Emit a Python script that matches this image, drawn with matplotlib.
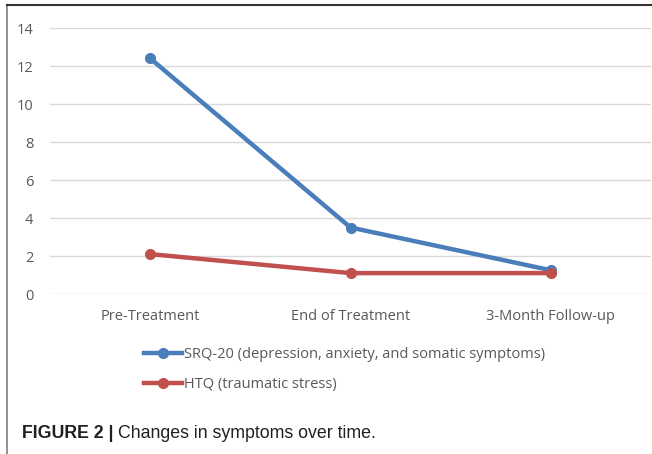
import matplotlib.pyplot as plt
from matplotlib.lines import Line2D

categories = ['Pre-Treatment', 'End of Treatment', '3-Month Follow-up']
srq20 = [12.4, 3.5, 1.25]
htq = [2.1, 1.1, 1.1]
yticks = [0, 2, 4, 6, 8, 10, 12, 14]

blue = '#4a7ebb'
red = '#c0504d'
grey = '#595959'
font = 'Open Sans'

W, H = 652, 454
fig = plt.figure(figsize=(W / 100, H / 100), dpi=100)
ax = fig.add_axes([50 / W, 1 - 294 / H, 601 / W, 266 / H])

x = range(len(categories))
ax.plot(x, srq20, color=blue, lw=3.2, marker='o', ms=7,
        label='SRQ-20 (depression, anxiety, and somatic symptoms)', zorder=3)
ax.plot(x, htq, color=red, lw=3.2, marker='o', ms=7,
        label='HTQ (traumatic stress)', zorder=3)

ax.set_ylim(0, 14)
ax.set_xlim(-0.5, 2.5)
ax.set_yticks(yticks)
ax.set_xticks(list(x))
ax.set_xticklabels(categories)
ax.grid(axis='y', color='#d9d9d9', lw=1)
ax.set_axisbelow(True)
for s in ax.spines.values():
    s.set_visible(False)
ax.tick_params(length=0, labelcolor=grey, labelsize=10.5)
ax.tick_params(axis='x', pad=10.5)
ax.tick_params(axis='y', pad=12)
for lab in ax.get_xticklabels() + ax.get_yticklabels():
    lab.set_fontfamily(font)

leg = ax.legend(loc='upper left', bbox_to_anchor=(131 / W, 1 - 334 / H),
                bbox_transform=fig.transFigure, frameon=False,
                handlelength=2.6, handletextpad=0.1, labelspacing=1.05,
                prop={'family': font, 'size': 10.5})
for t in leg.get_texts():
    t.set_color(grey)

# frame lines of the figure panel
fig.add_artist(Line2D([7 / W, 7 / W], [0, 1 - 5 / H], color='#808080', lw=1.2))
fig.add_artist(Line2D([7 / W, 1], [1 - 5 / H, 1 - 5 / H], color='#333333', lw=1.5))

# caption
cap = fig.text(22 / W, 1 - 433 / H, 'FIGURE 2 |', fontsize=12.8, fontweight='bold',
               family='Liberation Sans', va='center', color='#231f20')
fig.canvas.draw()
bb = cap.get_window_extent()
fig.text((bb.x1 + 5) / W, 1 - 433 / H, 'Changes in symptoms over time.', fontsize=12.8,
         family='Liberation Sans', va='center', color='#231f20')

fig.savefig('out.png', dpi=100)
